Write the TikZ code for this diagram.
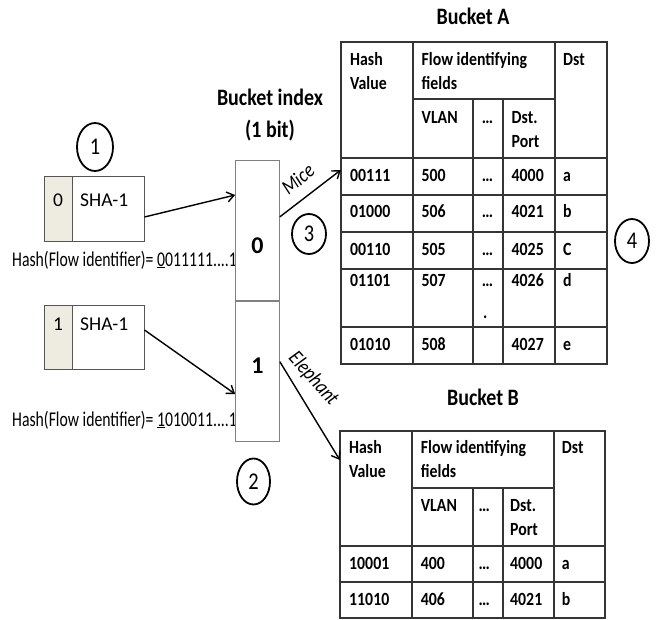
\documentclass[tikz,border=0pt]{standalone}
\usepackage{fontspec}
\setmainfont{Carlito}
\newfontfamily\condA[FakeStretch=0.85]{Carlito}
\newfontfamily\condB[FakeStretch=0.75]{Carlito}
\usetikzlibrary{arrows.meta,shapes.geometric}
\definecolor{beige}{HTML}{EEECE1}
\definecolor{gridc}{HTML}{353535}
\definecolor{boxc}{HTML}{555555}
\definecolor{idxc}{HTML}{808080}
\begin{document}
\begin{tikzpicture}[x=1pt,y=-1pt,
  tb/.style={font=\condA\fontsize{18.6}{20}\selectfont\bfseries, anchor=base west, inner sep=0pt},
  ttl/.style={font=\condA\fontsize{23.5}{32}\selectfont\bfseries, inner sep=0pt, align=center},
  rg/.style={font=\fontsize{19.5}{22}\selectfont, anchor=base west, inner sep=0pt},
  big/.style={font=\fontsize{24}{26}\selectfont\bfseries, anchor=base, inner sep=0pt},
  hashtxt/.style={font=\condB\fontsize{21}{22}\selectfont, anchor=base west, inner sep=0pt},
  numcirc/.style={draw, ellipse, line width=1.8pt, inner sep=0pt, font=\condA\fontsize{24}{26}\selectfont},
  boxed/.style={draw=boxc, line width=1pt, inner sep=0pt},
  idx/.style={draw=idxc, line width=1.1pt, inner sep=0pt},
  grd/.style={draw=gridc, line width=1.1pt},
  arr/.style={-{Straight Barb[length=7pt,width=10pt]}, line width=1.4pt},
  lbl/.style={font=\condA\fontsize{21}{22}\selectfont\itshape, inner sep=0pt}
]
\useasboundingbox[fill=white] (0,0) rectangle (656,619);

% ---- SHA-1 boxes ----
\node[boxed, minimum width=100pt, minimum height=65pt] (sha0) at (94,208.5) {};
\node[boxed, fill=beige, minimum width=28pt, minimum height=65pt] (bit0) at (58,208.5) {};
\node[rg, anchor=base] (b0t) at (58,206) {0};
\node[rg] (s0t) at (80,206) {SHA-1};
\node[hashtxt] (h0) at (12,266) {Hash(Flow identifier)= \underline{0}011111....1};

\node[boxed, minimum width=100pt, minimum height=64pt] (sha1) at (94,337) {};
\node[boxed, fill=beige, minimum width=28pt, minimum height=64pt] (bit1) at (58,337) {};
\node[rg, anchor=base] (b1t) at (58,330) {1};
\node[rg] (s1t) at (80,330) {SHA-1};
\node[hashtxt] (h1) at (12,426) {Hash(Flow identifier)= \underline{1}010011....1};

% ---- bucket index ----
\node[ttl] (bititle) at (270,115) {Bucket index\\(1 bit)};
\node[idx, minimum width=43.6pt, minimum height=140.3pt] (bidx0) at (257.5,230.85) {};
\node[idx, minimum width=43.6pt, minimum height=140.7pt] (bidx1) at (257.5,371.35) {};
\node[big] (i0) at (257.5,253) {0};
\node[big] (i1) at (257.5,373) {1};

% ---- circles ----
\node[numcirc, minimum width=36pt, minimum height=48pt] (c1) at (95,147) {1};
\node[numcirc, minimum width=33pt, minimum height=46pt] (c2) at (253.5,481.5) {2};
\node[numcirc, minimum width=34pt, minimum height=40pt] (c3) at (309,234) {3};
\node[numcirc, minimum width=34pt, minimum height=44pt] (c4) at (632,241) {4};

% ---- Bucket A ----
\node[ttl] (titA) at (473,16) {Bucket A};
\draw[grd] (341,42) rectangle (607,364);
\draw[grd] (413,42) -- (413,364) (555,42) -- (555,364)
           (473,99) -- (473,364) (503,99) -- (503,364) (413,99) -- (555,99);
\foreach \yy in {158,195,232,269,327} \draw[grd] (341,\yy) -- (607,\yy);
\node[inner sep=0pt, minimum width=72pt, minimum height=37pt] (A1cell) at (377,176.5) {};

\node[tb] (Ah1) at (350,65) {Hash};
\node[tb] (Ah2) at (350,89) {Value};
\node[tb] (Af1) at (421.5,65) {Flow identifying};
\node[tb] (Af2) at (421.5,89) {fields};
\node[tb] (Ads) at (563,65) {Dst};
\node[tb] (Avl) at (421.5,123) {VLAN};
\node[tb] (Ael) at (481.7,123) {…};
\node[tb] (Ap1) at (511.5,123) {Dst.};
\node[tb] (Ap2) at (511.5,147.7) {Port};
\foreach \yy/\h/\v/\e/\p/\d [count=\r] in
  {181.7/00111/500/…/4000/a, 217.7/01000/506/…/4021/b, 255/00110/505/…/4025/C,
   286.7/01101/507/…/4026/d, 350/01010/508//4027/e}{
  \node[tb] (Ahr\r) at (350,\yy) {\h};
  \node[tb] (Avr\r) at (421.5,\yy) {\v};
  \node[tb] (Aer\r) at (481.7,\yy) {\e};
  \node[tb] (Apr\r) at (511.5,\yy) {\p};
  \node[tb] (Adr\r) at (563,\yy) {\d};
}
\node[tb] (Adot) at (483,318) {.};

% ---- Bucket B ----
\node[ttl] (titB) at (483,397) {Bucket B};
\draw[grd] (340,431) rectangle (605,618);
\draw[grd] (412,431) -- (412,618) (554,431) -- (554,618)
           (473,488) -- (473,618) (503,488) -- (503,618) (412,488) -- (554,488);
\foreach \yy in {546,582} \draw[grd] (340,\yy) -- (605,\yy);
\node[inner sep=0pt, minimum width=72pt, minimum height=115pt] (B0cell) at (376,488) {};

\node[tb] (Bh1) at (349,453) {Hash};
\node[tb] (Bh2) at (349,477) {Value};
\node[tb] (Bf1) at (420.7,453) {Flow identifying};
\node[tb] (Bf2) at (420.7,477) {fields};
\node[tb] (Bds) at (561.7,453) {Dst};
\node[tb] (Bvl) at (420.7,511.7) {VLAN};
\node[tb] (Bel) at (478.3,511.7) {…};
\node[tb] (Bp1) at (510,511.7) {Dst.};
\node[tb] (Bp2) at (510,535.7) {Port};
\foreach \yy/\h/\v/\p/\d [count=\r] in {569/10001/400/4000/a, 605.7/11010/406/4021/b}{
  \node[tb] (Bhr\r) at (349,\yy) {\h};
  \node[tb] (Bvr\r) at (420.7,\yy) {\v};
  \node[tb] (Ber\r) at (478.3,\yy) {…};
  \node[tb] (Bpr\r) at (510,\yy) {\p};
  \node[tb] (Bdr\r) at (561.7,\yy) {\d};
}

% ---- connectors ----
\draw[arr] ([yshift=-8.5pt]sha0.east) -- ([yshift=35.85pt]bidx0.west);
\draw[arr] ([yshift=7pt]sha1.east) -- ([yshift=-22.65pt]bidx1.west);
\draw[arr] ([yshift=14pt]bidx0.east) -- node[lbl, pos=0.49, rotate=39, yshift=19pt] (mice) {Mice} ([yshift=6.5pt]A1cell.west);
\draw[arr] ([yshift=9.65pt]bidx1.east) -- node[lbl, pos=0.31, rotate=-48, yshift=20pt] (eleph) {Elephant} ([yshift=28pt]B0cell.west);
\end{tikzpicture}
\end{document}
